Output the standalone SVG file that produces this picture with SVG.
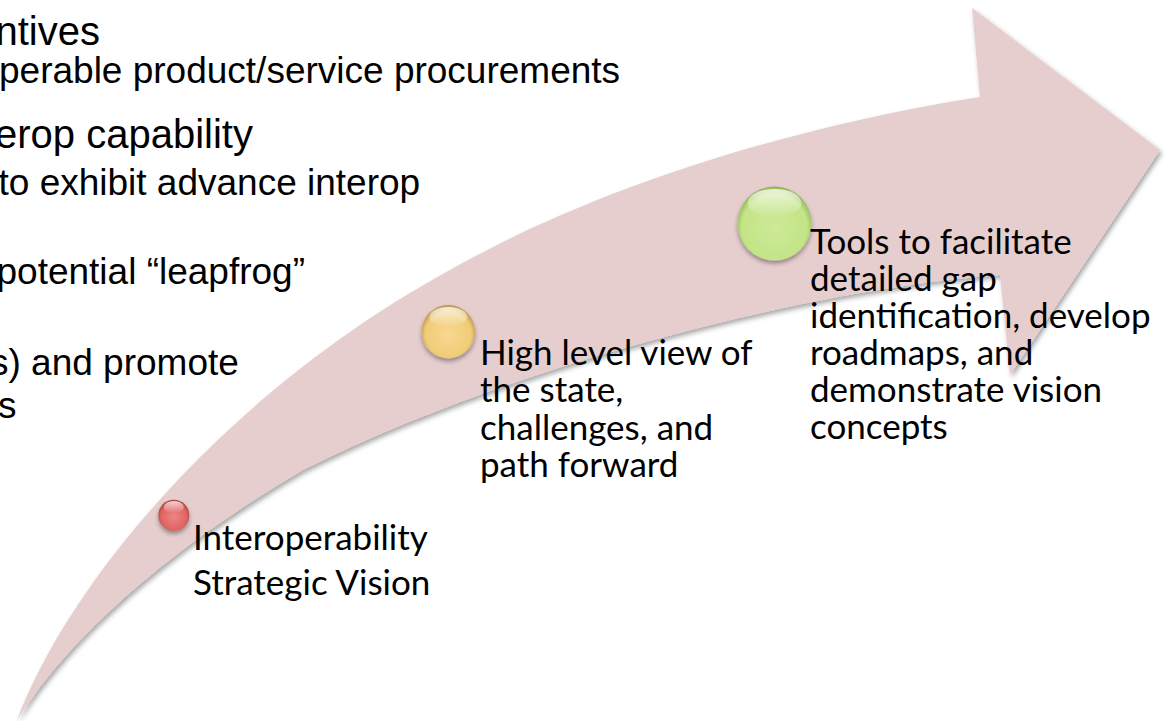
<svg xmlns="http://www.w3.org/2000/svg" width="1165" height="721" viewBox="0 0 1165 721">
<style>
  .lt { font-family: "Liberation Sans", Arial, sans-serif; fill: #000; }
  .lbl { font-family: Lato, "Open Sans", sans-serif; font-size: 35px; fill: #000; }
</style>
<defs>
  <filter id="arrowShadow" x="-5%" y="-5%" width="110%" height="110%">
    <feDropShadow dx="2" dy="3" stdDeviation="2.5" flood-color="#000" flood-opacity="0.35"/>
  </filter>
  <filter id="ballShadow" x="-30%" y="-30%" width="160%" height="170%">
    <feDropShadow dx="0" dy="3" stdDeviation="2" flood-color="#000" flood-opacity="0.35"/>
  </filter>
  <radialGradient id="gRed" cx="50%" cy="55%" r="55%">
    <stop offset="0" stop-color="#ec8583"/>
    <stop offset="0.75" stop-color="#e06462"/>
    <stop offset="1" stop-color="#a8403f"/>
  </radialGradient>
  <radialGradient id="gGold" cx="50%" cy="55%" r="55%">
    <stop offset="0" stop-color="#f7d88f"/>
    <stop offset="0.78" stop-color="#f0cc78"/>
    <stop offset="1" stop-color="#b8924a"/>
  </radialGradient>
  <radialGradient id="gGreen" cx="50%" cy="55%" r="55%">
    <stop offset="0" stop-color="#cdea98"/>
    <stop offset="0.8" stop-color="#c3e487"/>
    <stop offset="1" stop-color="#8fb257"/>
  </radialGradient>
  <linearGradient id="hl" x1="0" y1="0" x2="0" y2="1">
    <stop offset="0" stop-color="#fff" stop-opacity="0.75"/>
    <stop offset="1" stop-color="#fff" stop-opacity="0"/>
  </linearGradient>
</defs>

<g id="left-text" class="lt">
  <text x="-4.5" y="45" font-size="40">ntives</text>
  <text x="-1" y="83" font-size="37">perable product/service procurements</text>
  <text x="-5" y="148" font-size="40">erop capability</text>
  <text x="-1.5" y="195" font-size="37">to exhibit advance interop</text>
  <text x="-3.5" y="284" font-size="37">potential “leapfrog”</text>
  <text x="-10" y="375" font-size="37">s) and promote</text>
  <text x="-2" y="418" font-size="37">s</text>
</g>

<g id="connectors">
  <path id="arrow" filter="url(#arrowShadow)" fill="#e6cdce"
    d="M17,720 C70,580 230,390 450,270 C600,185 800,125 980,97 L972,8 L1160,150 L1010,375 L1000,275 C800,290 500,370 303,470 C200,530 80,620 17,720 Z"/>
</g>

<g id="node-vision">
  <g filter="url(#ballShadow)">
    <circle cx="173.8" cy="515.3" r="15.5" fill="url(#gRed)"/>
  </g>
  <ellipse cx="173.8" cy="507" rx="10" ry="6" fill="url(#hl)"/>
  <text class="lbl" x="193" y="550">Interoperability</text>
  <text class="lbl" x="193" y="595">Strategic Vision</text>
</g>

<g id="node-highlevel">
  <g filter="url(#ballShadow)">
    <circle cx="448.3" cy="331.7" r="26.7" fill="url(#gGold)"/>
  </g>
  <ellipse cx="448.3" cy="317" rx="19" ry="10" fill="url(#hl)"/>
  <text class="lbl" x="480" y="365">High level view of</text>
  <text class="lbl" x="480" y="402">the state,</text>
  <text class="lbl" x="480" y="440">challenges, and</text>
  <text class="lbl" x="480" y="477">path forward</text>
</g>

<g id="node-tools">
  <g filter="url(#ballShadow)">
    <circle cx="774.5" cy="223.5" r="37" fill="url(#gGreen)"/>
  </g>
  <ellipse cx="774.5" cy="203" rx="27" ry="14" fill="url(#hl)"/>
  <text class="lbl" x="810" y="254">Tools to facilitate</text>
  <text class="lbl" x="810" y="291">detailed gap</text>
  <text class="lbl" x="810" y="328">identification, develop</text>
  <text class="lbl" x="810" y="365">roadmaps, and</text>
  <text class="lbl" x="810" y="402">demonstrate vision</text>
  <text class="lbl" x="810" y="439">concepts</text>
</g>
</svg>
